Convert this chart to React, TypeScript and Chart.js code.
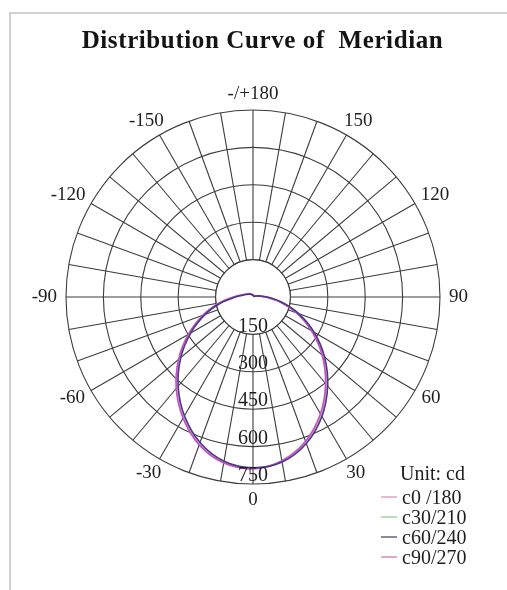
import React, { useEffect, useRef } from "react";
import { Chart, registerables } from "chart.js";

Chart.register(...registerables);

// Angles in radar order (clockwise on screen starting at the bottom = 0°)
const angles = [
  "0", "-10", "-20", "-30", "-40", "-50", "-60", "-70", "-80", "-90",
  "-100", "-110", "-120", "-130", "-140", "-150", "-160", "-170", "180",
  "170", "160", "150", "140", "130", "120", "110", "100", "90",
  "80", "70", "60", "50", "40", "30", "20", "10",
];

// Which angle gets which printed label
const angleTickLabels: Record<string, string> = {
  "0": "0", "-30": "-30", "-60": "-60", "-90": "-90", "-120": "-120",
  "-150": "-150", "180": "-/+180", "150": "150", "120": "120",
  "90": "90", "60": "60", "30": "30",
};

// Radial ticks (cd)
const radialTicks = [150, 300, 450, 600, 750];
const holeValue = 150;
const radialMax = 750;

// Intensity values (cd), same order as `angles`
const c0_180 = [
  688, 673, 627, 557, 474, 385, 295, 210, 134, 76,
  46, 32, 25, 20, 16, 13, 11, 9, 8,
  7, 6, 5, 4, 4, 5, 10, 22, 52,
  110, 188, 275, 367, 458, 545, 619, 669,
];
const c30_210 = [
  686, 671, 625, 555, 472, 383, 293, 208, 132, 74,
  44, 30, 24, 19, 15, 12, 10, 9, 8,
  7, 6, 5, 4, 4, 5, 10, 23, 54,
  112, 190, 277, 369, 460, 547, 620, 670,
];
const c60_240 = [
  685, 669, 621, 550, 467, 378, 288, 204, 128, 70,
  42, 29, 22, 18, 14, 11, 10, 8, 8,
  7, 6, 5, 5, 5, 6, 12, 25, 57,
  116, 195, 283, 375, 466, 553, 625, 672,
];
const c90_270 = [
  690, 676, 631, 561, 479, 390, 300, 214, 138, 79,
  48, 33, 26, 21, 17, 14, 11, 9, 8,
  7, 6, 5, 4, 4, 4, 9, 20, 49,
  106, 184, 270, 362, 453, 541, 616, 667,
];

const seriesNames = ["c0 /180", "c30/210", "c60/240", "c90/270"];
const seriesData = [c0_180, c30_210, c60_240, c90_270];
const seriesColors = ["#e8a6c8", "#a9d6a2", "#4b3a82", "#c052c8"];
const legendColors = ["#eab8d0", "#bcdcb6", "#8a88a0", "#e0a8c8"];
const drawOrder = [1, 0, 3, 2];

const GRID = "#3c3c3c";
const FONT = '"Liberation Serif", "Times New Roman", serif';

const polarDecor = {
  id: "polarDecor",
  beforeDatasetsDraw(chart: any) {
    const r = chart.scales.r;
    const ctx = chart.ctx;
    const inner = r.getDistanceFromCenterForValue(holeValue);
    ctx.save();
    ctx.beginPath();
    ctx.arc(r.xCenter, r.yCenter, inner, 0, Math.PI * 2);
    ctx.fillStyle = "#ffffff";
    ctx.fill();
    ctx.lineWidth = 1.1;
    ctx.strokeStyle = GRID;
    ctx.stroke();
    ctx.restore();
  },
  afterDatasetsDraw(chart: any) {
    const r = chart.scales.r;
    const ctx = chart.ctx;
    ctx.save();
    ctx.fillStyle = "#1e1e1e";
    ctx.textAlign = "center";
    ctx.textBaseline = "middle";
    // radial tick labels along the 0° direction (downwards)
    ctx.font = `20px ${FONT}`;
    radialTicks.forEach((v) => {
      const d = r.getDistanceFromCenterForValue(v);
      const p = r.getPointPosition(0, d - 8);
      ctx.fillText(String(v), p.x, p.y);
    });
    // angle labels
    ctx.font = `19px ${FONT}`;
    const R = r.getDistanceFromCenterForValue(radialMax) + 9;
    angles.forEach((a, i) => {
      const txt = angleTickLabels[a];
      if (!txt) return;
      const p = r.getPointPosition(i, R);
      const dx = (p.x - r.xCenter) / R;
      const dy = (p.y - r.yCenter) / R;
      const w = ctx.measureText(txt).width;
      const h = 14;
      ctx.fillText(txt, p.x + (dx * w) / 2, p.y + (dy * h) / 2);
    });
    ctx.restore();
  },
};

export default function App() {
  const canvasRef = useRef<HTMLCanvasElement | null>(null);

  useEffect(() => {
    if (!canvasRef.current) return;
    const chart = new Chart(canvasRef.current, {
      type: "radar",
      data: {
        labels: angles,
        datasets: drawOrder.map((k, idx) => ({
          label: seriesNames[k],
          data: seriesData[k],
          borderColor: seriesColors[k],
          backgroundColor: "rgba(0,0,0,0)",
          borderWidth: 1.6,
          pointRadius: 0,
          pointHoverRadius: 0,
          fill: false,
          tension: 0.3,
          order: drawOrder.length - idx,
        })),
      },
      options: {
        responsive: false,
        animation: false,
        layout: { padding: { left: 66, right: 67, top: 110, bottom: 106 } },
        plugins: {
          legend: { display: false },
          title: { display: false },
          tooltip: { enabled: false },
        },
        scales: {
          r: {
            startAngle: 180,
            min: 0,
            max: radialMax,
            ticks: { stepSize: 150, display: false },
            grid: { circular: true, color: GRID, lineWidth: 1.1 },
            angleLines: { display: true, color: GRID, lineWidth: 1.1 },
            pointLabels: { display: false },
          },
        },
      },
      plugins: [polarDecor],
    });
    return () => chart.destroy();
  }, []);

  return (
    <div
      style={{
        position: "absolute",
        left: 0,
        top: 0,
        width: 507,
        height: 590,
        background: "#ffffff",
        overflow: "hidden",
        fontFamily: FONT,
      }}
    >
      <div
        style={{
          position: "absolute",
          left: 9,
          top: 12,
          width: 600,
          height: 700,
          borderTop: "2px solid #d0d0d0",
          borderLeft: "2px solid #d0d0d0",
        }}
      />
      <canvas
        ref={canvasRef}
        width={507}
        height={590}
        style={{ position: "absolute", left: 0, top: 0, width: 507, height: 590 }}
      />
      <div
        style={{
          position: "absolute",
          left: 18,
          width: 489,
          top: 26,
          lineHeight: "28px",
          textAlign: "center",
          fontWeight: "bold",
          fontSize: 25,
          letterSpacing: "0.6px",
          color: "#141414",
          whiteSpace: "pre",
        }}
      >
        {"Distribution Curve of  Meridian"}
      </div>
      <div
        style={{
          position: "absolute",
          left: 381,
          top: 461,
          fontSize: 20,
          color: "#1e1e1e",
        }}
      >
        <div style={{ height: 26, lineHeight: "24px", paddingLeft: 19 }}>Unit: cd</div>
        {seriesNames.map((n, k) => (
          <div
            key={n}
            style={{ height: 20, lineHeight: "20px", display: "flex", alignItems: "center", whiteSpace: "pre" }}
          >
            <span
              style={{
                display: "inline-block",
                width: 16,
                height: 2,
                background: legendColors[k],
                marginRight: 5,
              }}
            />
            <span>{n}</span>
          </div>
        ))}
      </div>
    </div>
  );
}
